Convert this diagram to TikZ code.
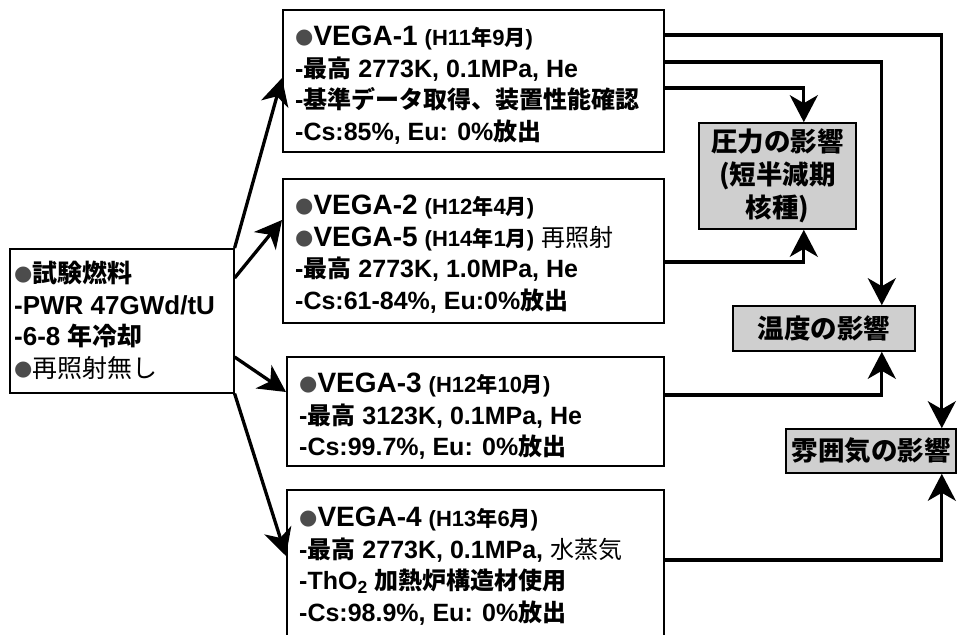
\documentclass[tikz,border=0pt]{standalone}
\usepackage{fontspec}
\setmainfont{Liberation Sans}
\newfontfamily\jp{Noto Sans CJK JP}[Scale=0.96]
\newfontfamily\jpe{Noto Sans CJK JP}
\newfontfamily\dv{DejaVu Sans}
\usetikzlibrary{arrows.meta}
\newcommand\J[1]{{\jp #1}}
\newcommand\bul{\raisebox{2pt}{\dv\fontsize{21}{21}\selectfont\textcolor{black!70}{●}}}
\newcommand\hd[2]{{\fontsize{28}{31.5}\selectfont\bul #1} {\fontsize{22}{31.5}\selectfont(#2)}}
\begin{document}
\begin{tikzpicture}[x=1pt,y=-1pt,
  box/.style={draw, line width=1.6pt, inner sep=0pt, anchor=north west},
  txt/.style={anchor=north west, inner sep=0pt, align=left, font=\bfseries\fontsize{25}{31.5}\selectfont},
  eff/.style={draw, line width=1.6pt, fill=black!19, inner sep=0pt, align=center, font=\jpe\bfseries\fontsize{26.5}{33}\selectfont},
  arr/.style={line width=3.3pt, -{Stealth[length=27pt,width=28pt,inset=8pt]}},
]
\useasboundingbox (0,0) rectangle (957,634);
\clip (0,0) rectangle (957,634);

\node[box, minimum width=224pt, minimum height=144pt] (L) at (9,248) {};
\node[box, minimum width=381pt, minimum height=142pt] (v1) at (282,9) {};
\node[box, minimum width=381pt, minimum height=144pt] (v2) at (282,178) {};
\node[box, minimum width=377pt, minimum height=109pt] (v3) at (286,356) {};
\node[box, minimum width=377pt, minimum height=180pt] (v4) at (286,489) {};

\node[txt, font=\bfseries\fontsize{26}{31.5}\selectfont] (Lt) at ([xshift=5pt,yshift=-13pt]L.north west)
  {\bul\J{試験燃料}\\-PWR 47GWd/tU\\-6-8 \J{年冷却}\\\bul{\jp\mdseries 再照射無し}};

\node[txt] (v1t) at ([xshift=13pt,yshift=-17pt]v1.north west)
  {\hd{VEGA-1}{H11\J{年}9\J{月}}\\
   -\J{最高} 2773K, 0.1MPa, He\\
   -\J{基準データ取得、装置性能確認}\\
   -Cs:85\%, Eu: 0\%\J{放出}};

\node[txt] (v2t) at ([xshift=13pt,yshift=-17pt]v2.north west)
  {\hd{VEGA-2}{H12\J{年}4\J{月}}\\
   \hd{VEGA-5}{H14\J{年}1\J{月}} {\jp\mdseries 再照射}\\
   -\J{最高} 2773K, 1.0MPa, He\\
   -Cs:61-84\%, Eu:0\%\J{放出}};

\node[txt] (v3t) at ([xshift=13pt,yshift=-17pt]v3.north west)
  {\hd{VEGA-3}{H12\J{年}10\J{月}}\\
   -\J{最高} 3123K, 0.1MPa, He\\
   -Cs:99.7\%, Eu: 0\%\J{放出}};

\node[txt] (v4t) at ([xshift=13pt,yshift=-18pt]v4.north west)
  {\hd{VEGA-4}{H13\J{年}6\J{月}}\\
   -\J{最高} 2773K, 0.1MPa, {\jp\mdseries 水蒸気}\\
   -ThO\textsubscript{2} \J{加熱炉構造材使用}\\
   -Cs:98.9\%, Eu: 0\%\J{放出}};

\node[eff, minimum width=157pt, minimum height=106pt] (P) at (777.5,176) {圧力の影響\\(短半減期\\核種)};
\node[eff, minimum width=182pt, minimum height=45pt] (T) at (824,328.5) {温度の影響};
\node[eff, minimum width=170pt, minimum height=44pt] (A) at (871,451) {雰囲気の影響};

\draw[arr] ([yshift=-26pt]v1.north east) -| ([xshift=-15pt]A.north east);
\draw[arr] ([yshift=-53pt]v1.north east) -| ([xshift=-34pt]T.north east);
\draw[arr] ([yshift=-79pt]v1.north east) -| ([xshift=-53pt]P.north east);
\draw[arr] ([yshift=-84pt]v2.north east) -| ([xshift=-53pt]P.south east);
\draw[arr] ([yshift=-39pt]v3.north east) -| ([xshift=-34pt]T.south east);
\draw[arr] ([yshift=-71pt]v4.north east) -| ([xshift=-15pt]A.south east);

\draw[arr] (L.north east) -- ([yshift=-69pt]v1.north west);
\draw[arr] ([yshift=-30pt]L.north east) -- ([yshift=-42pt]v2.north west);
\draw[arr] ([yshift=-109pt]L.north east) -- ([yshift=-36pt]v3.north west);
\draw[arr] (L.south east) -- ([yshift=-67pt]v4.north west);
\end{tikzpicture}
\end{document}
